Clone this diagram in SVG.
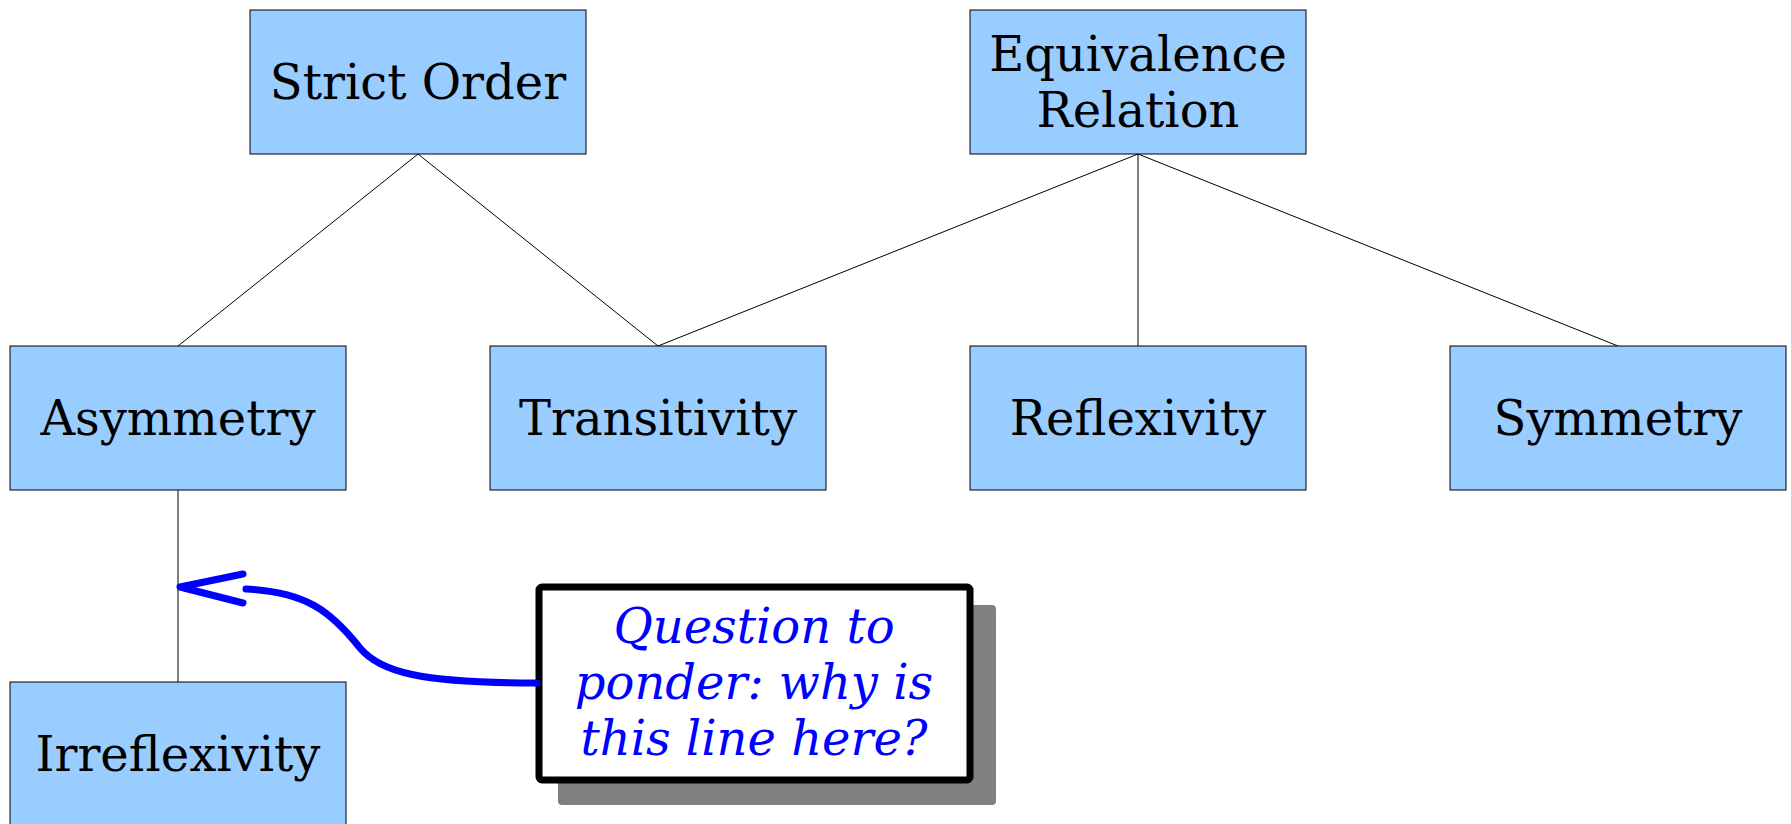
<svg xmlns="http://www.w3.org/2000/svg" width="1791" height="824" viewBox="0 0 1791 824">
  <style>
    .box { fill: #99ccff; stroke: #000; stroke-width: 1; }
    .label { font-family: "DejaVu Serif", "Liberation Serif", serif; font-size: 48px; fill: #000; text-anchor: middle; }
    .edge { stroke: #000; stroke-width: 1; fill: none; }
    .note-text { font-family: "DejaVu Serif", "Liberation Serif", serif; font-size: 48px; font-style: italic; fill: #0000ff; text-anchor: middle; }
    .pointer { stroke: #0000ff; stroke-width: 7; fill: none; stroke-linecap: round; stroke-linejoin: round; }
  </style>
  <rect width="1791" height="824" fill="#fff"/>

  <g id="connectors">
    <line class="edge" x1="418" y1="154" x2="178" y2="346"/>
    <line class="edge" x1="418" y1="154" x2="658" y2="346"/>
    <line class="edge" x1="1138" y1="154" x2="658" y2="346"/>
    <line class="edge" x1="1138" y1="154" x2="1138" y2="346"/>
    <line class="edge" x1="1138" y1="154" x2="1618" y2="346"/>
    <line class="edge" x1="178" y1="490" x2="178" y2="682"/>
  </g>

  <g id="strict-order">
    <rect class="box" x="250" y="10" width="336" height="144"/>
    <text class="label" x="418" y="99">Strict Order</text>
  </g>

  <g id="equivalence-relation">
    <rect class="box" x="970" y="10" width="336" height="144"/>
    <text class="label" x="1138" y="71">Equivalence</text>
    <text class="label" x="1138" y="127">Relation</text>
  </g>

  <g id="asymmetry">
    <rect class="box" x="10" y="346" width="336" height="144"/>
    <text class="label" x="178" y="435">Asymmetry</text>
  </g>

  <g id="transitivity">
    <rect class="box" x="490" y="346" width="336" height="144"/>
    <text class="label" x="658" y="435">Transitivity</text>
  </g>

  <g id="reflexivity">
    <rect class="box" x="970" y="346" width="336" height="144"/>
    <text class="label" x="1138" y="435">Reflexivity</text>
  </g>

  <g id="symmetry">
    <rect class="box" x="1450" y="346" width="336" height="144"/>
    <text class="label" x="1618" y="435">Symmetry</text>
  </g>

  <g id="irreflexivity">
    <rect class="box" x="10" y="682" width="336" height="144"/>
    <text class="label" x="178" y="771">Irreflexivity</text>
  </g>

  <g id="note">
    <rect x="558" y="605" width="438" height="200" rx="4" fill="#808080"/>
    <rect x="539" y="587" width="431" height="193" rx="3" fill="#fff" stroke="#000" stroke-width="7"/>
    <text class="note-text" x="754" y="643">Question to</text>
    <text class="note-text" x="754" y="699">ponder: why is</text>
    <text class="note-text" x="754" y="755">this line here?</text>
  </g>

  <g id="note-pointer">
    <path class="pointer" d="M537 683 C420 683 380 672 360 648 C330 610 305 592 246 589"/>
    <polyline class="pointer" points="243,574 180,587 243,603"/>
  </g>
</svg>
